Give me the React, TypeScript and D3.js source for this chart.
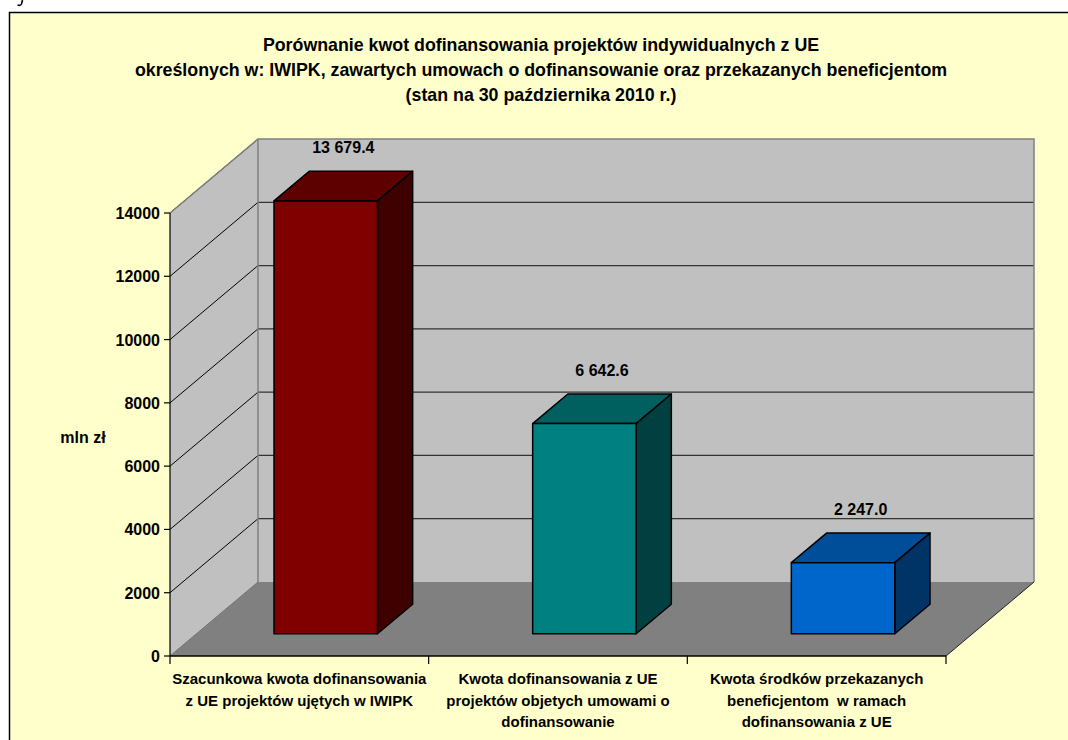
import * as d3 from "d3";

const titleLines = [
  "Porównanie kwot dofinansowania projektów indywidualnych z UE",
  "określonych w: IWIPK, zawartych umowach o dofinansowanie oraz przekazanych beneficjentom",
  "(stan na 30 października 2010 r.)",
];

const categories = ["iwipk", "umowy", "przekazane"];
const categoryLabels = [
  ["Szacunkowa kwota dofinansowania", "z UE projektów ujętych w IWIPK"],
  ["Kwota dofinansowania z UE", "projektów objetych umowami o", "dofinansowanie"],
  ["Kwota środków przekazanych", "beneficjentom  w ramach", "dofinansowania z UE"],
];
const values = [13679.4, 6642.6, 2247.0];
const yTicks = [0, 2000, 4000, 6000, 8000, 10000, 12000, 14000];

const barColors = [
  { front: "#800000", top: "#5e0000", side: "#3f0000" },
  { front: "#008080", top: "#00605f", side: "#004040" },
  { front: "#0066cc", top: "#004d99", side: "#003366" },
];

const W = 1068;
const H = 740;
const plotLeft = 170;
const plotRight = 946;
const plotBottom = 656;
const plotTop = 213;
const depthX = 88;
const depthY = 74;
const barFront = 0.3;
const barBack = 0.7;
const font = "'Liberation Sans', Arial, sans-serif";

const fmt = d3.formatLocale({ decimal: ".", thousands: " ", grouping: [3], currency: ["", ""] }).format(",.1f");

export default function App() {
  const x = d3.scaleBand<string>()
    .domain(categories)
    .range([plotLeft, plotRight])
    .paddingInner(0.6)
    .paddingOuter(0.3);

  const y = d3.scaleLinear().domain([0, 14000]).range([plotBottom, plotTop]);

  const step = x.step();
  const bounds = d3.range(categories.length + 1).map((i) => plotLeft + i * step);

  const pts = (p: [number, number][]) => p.map((d) => d.join(",")).join(" ");

  const fx = barFront * depthX, fy = barFront * depthY;
  const bx = barBack * depthX, by = barBack * depthY;

  return (
    <svg width={W} height={H} style={{ position: "absolute", left: 0, top: 0, background: "#fff" }}>
      {/* cropped glyph tail above the frame */}
      <path d="M22.5,0 L21.5,4 Q20.5,6 17.5,5" fill="none" stroke="#000" strokeWidth={1.6} />
      <rect x={9.5} y={12.5} width={W + 10} height={H} fill="#ffffcc" stroke="#000" strokeWidth={1.5} />

      {titleLines.map((t, i) => (
        <text key={i} x={541} y={50.5 + i * 25} textAnchor="middle" fontFamily={font} fontWeight="bold" fontSize={17.8}>
          {t}
        </text>
      ))}

      {/* walls and floor */}
      <polygon
        points={pts([[plotLeft, plotBottom], [plotLeft, plotTop], [plotLeft + depthX, plotTop - depthY], [plotLeft + depthX, plotBottom - depthY]])}
        fill="#c0c0c0"
      />
      <polygon
        points={pts([[plotLeft + depthX, plotTop - depthY], [plotRight + depthX, plotTop - depthY], [plotRight + depthX, plotBottom - depthY], [plotLeft + depthX, plotBottom - depthY]])}
        fill="#c0c0c0"
      />
      <polygon
        points={pts([[plotLeft, plotBottom], [plotRight, plotBottom], [plotRight + depthX, plotBottom - depthY], [plotLeft + depthX, plotBottom - depthY]])}
        fill="#808080"
      />

      {/* gridlines */}
      {yTicks.filter((t) => t > 0).map((t) => (
        <g key={t}>
          <line x1={plotLeft} y1={y(t)} x2={plotLeft + depthX} y2={y(t) - depthY} stroke="#000" strokeWidth={1} />
          {t < 14000 && (
            <line x1={plotLeft + depthX} y1={y(t) - depthY} x2={plotRight + depthX} y2={y(t) - depthY} stroke="#333" strokeWidth={1.2} />
          )}
        </g>
      ))}

      {/* wall edges */}
      <polyline
        points={pts([[plotLeft, plotTop], [plotLeft + depthX, plotTop - depthY], [plotRight + depthX, plotTop - depthY], [plotRight + depthX, plotBottom - depthY]])}
        fill="none"
        stroke="#808080"
        strokeWidth={1.5}
      />
      <line x1={plotLeft + depthX} y1={plotTop - depthY} x2={plotLeft + depthX} y2={plotBottom - depthY} stroke="#808080" strokeWidth={1.5} />
      <line x1={plotLeft} y1={plotBottom} x2={plotLeft + depthX} y2={plotBottom - depthY} stroke="#707070" strokeWidth={1} />
      <line x1={plotRight} y1={plotBottom} x2={plotRight + depthX} y2={plotBottom - depthY} stroke="#222" strokeWidth={1} />

      {/* bars */}
      {values.map((v, i) => {
        const x0 = (x(categories[i]) as number) + fx;
        const x1 = x0 + x.bandwidth();
        const yb = y(0) - fy;
        const yt = y(v) - fy;
        const dx = bx - fx, dy = by - fy;
        const c = barColors[i];
        return (
          <g key={i} stroke="#000" strokeWidth={1.5} strokeLinejoin="round">
            <polygon points={pts([[x0, yt], [x0 + dx, yt - dy], [x1 + dx, yt - dy], [x1, yt]])} fill={c.top} />
            <polygon points={pts([[x1, yt], [x1 + dx, yt - dy], [x1 + dx, yb - dy], [x1, yb]])} fill={c.side} />
            <rect x={x0} y={yt} width={x1 - x0} height={yb - yt} fill={c.front} />
            <text
              x={(x0 + x1 + dx) / 2}
              y={yt - dy - 24 + 6}
              textAnchor="middle"
              stroke="none"
              fill="#000"
              fontFamily={font}
              fontWeight="bold"
              fontSize={16}
            >
              {fmt(v)}
            </text>
          </g>
        );
      })}

      {/* y axis */}
      <line x1={plotLeft} y1={plotTop} x2={plotLeft} y2={plotBottom} stroke="#000" strokeWidth={1.2} />
      {yTicks.map((t) => (
        <g key={t}>
          <line x1={plotLeft - 6} y1={y(t)} x2={plotLeft} y2={y(t)} stroke="#000" strokeWidth={1.2} />
          <text x={plotLeft - 10} y={y(t) + 6} textAnchor="end" fontFamily={font} fontWeight="bold" fontSize={16}>
            {t}
          </text>
        </g>
      ))}
      <text x={83} y={443} textAnchor="middle" fontFamily={font} fontWeight="bold" fontSize={16}>mln zł</text>

      {/* x axis */}
      <line x1={plotLeft} y1={plotBottom} x2={plotRight} y2={plotBottom} stroke="#000" strokeWidth={1.5} />
      {bounds.map((b, i) => (
        <line key={i} x1={b} y1={plotBottom} x2={b} y2={plotBottom + 8} stroke="#000" strokeWidth={1.2} />
      ))}
      {categoryLabels.map((lines, i) =>
        lines.map((l, j) => (
          <text
            key={`${i}-${j}`}
            x={plotLeft + (i + 0.5) * step}
            y={684 + j * 21.5}
            textAnchor="middle"
            fontFamily={font}
            fontWeight="bold"
            fontSize={15}
            style={{ whiteSpace: "pre" }}
          >
            {l}
          </text>
        ))
      )}
    </svg>
  );
}
